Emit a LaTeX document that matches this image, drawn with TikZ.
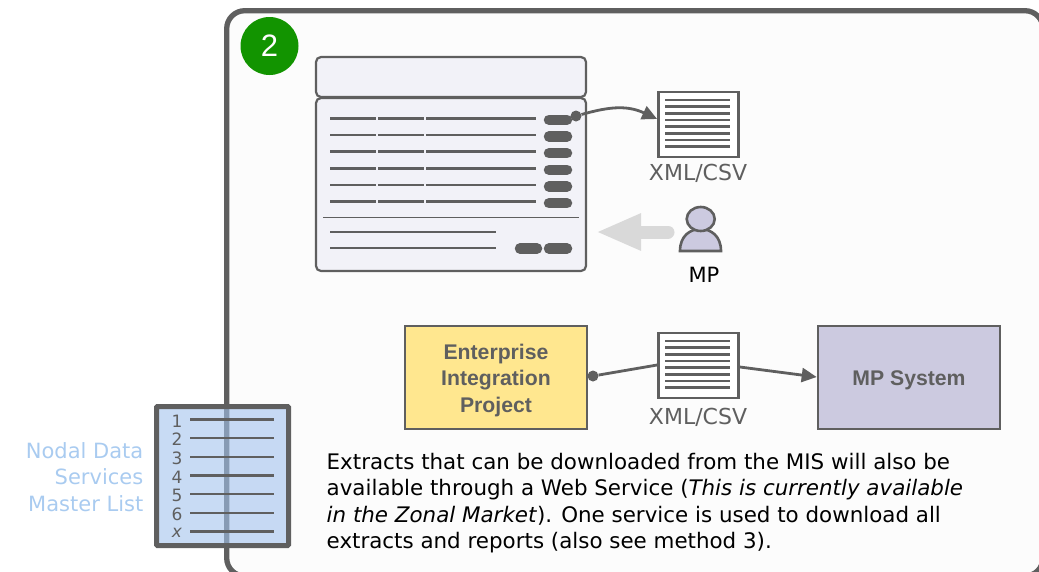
\documentclass[tikz,border=0pt]{standalone}
\usepackage{fontspec}
\setmainfont{DejaVu Sans}
\newfontfamily\boxfont{Liberation Sans}
\usetikzlibrary{arrows.meta}
\definecolor{linegray}{HTML}{5F5F5F}
\definecolor{panelgray}{HTML}{F2F2F8}
\definecolor{badgegreen}{HTML}{129400}
\definecolor{listblue}{HTML}{A3C3ED}
\definecolor{listtext}{HTML}{A9CBF0}
\definecolor{eipyellow}{HTML}{FFE78F}
\definecolor{mppurple}{HTML}{CCCAE0}
\tikzset{
	panel/.style={shape=rectangle, rounded corners=5pt, draw=linegray, fill=panelgray, line width=2.2pt, inner sep=0pt, minimum width=270pt},
	docbox/.style={shape=rectangle, draw=linegray, fill=white, line width=2.8pt, minimum width=80pt, minimum height=65pt, inner sep=0pt},
	sysbox/.style={shape=rectangle, draw=linegray, line width=2.6pt, minimum width=182pt, minimum height=103pt, inner sep=0pt},
	syslabel/.style={align=center, text=linegray, inner sep=0pt, font=\boxfont\fontsize{21.2}{26.5}\selectfont\bfseries},
	doclabel/.style={text=linegray, font=\fontsize{22}{26}\selectfont, inner sep=0pt},
	pill/.style={line width=10.5pt, line cap=round, draw=linegray},
	rowline/.style={line width=2.5pt, draw=linegray},
	flow/.style={line width=2.8pt, draw=linegray, -{Triangle[length=15pt,width=14pt]}},
	flowdot/.style={shape=circle, fill=linegray, minimum size=11pt, inner sep=0pt},
}
\begin{document}
\begin{tikzpicture}[x=1pt, y=-1pt]
	\useasboundingbox (0,0) rectangle (1039,571);
	\clip (0,0) rectangle (1039,571);

	\draw [line width=5.3pt, draw=linegray, fill=white!99!black, rounded corners=18pt] (226.7,10.7) rectangle (1043,576);

	\node[shape=circle, fill=badgegreen, text=white, minimum size=58pt, inner sep=0pt, font=\boxfont\fontsize{31}{31}\selectfont] (badge) at (269.5,46) {2};

	\node[panel, minimum height=40pt]  (titlebar) at (451,77)    {};
	\node[panel, minimum height=173pt] (extracts) at (451,184.5) {};

	\foreach \y in {118.3,135,151.7,168.3,185,201.7} {
		\draw [rowline] (330,\y) -- (376,\y);
		\draw [rowline] (378,\y) -- (424,\y);
		\draw [rowline] (426,\y) -- (536,\y);
		\draw [pill] (549,\y+1.5) -- (567,\y+1.5);
	}
	\draw [line width=1.4pt, draw=linegray] (323,217.5) -- (579,217.5);
	\draw [rowline] (330,232) -- (496,232);
	\draw [rowline] (330,248) -- (496,248);
	\draw [pill] (520,248.5) -- (537,248.5);
	\draw [pill] (549,248.5) -- (567,248.5);

	\node[flowdot] (rowdot) at (576,116) {};
	\node[docbox]  (doctop) at (698.5,124.5) {};
	\foreach \y in {100,106.7,113.3,120,126.7,133.3,140,146.7} {
		\draw [rowline] (665,\y) -- (730,\y);
	}
	\node[doclabel] (doctoplabel) at (698,173) {XML/CSV};
	\path [flow] (rowdot) .. controls (605,108) and (625,104) .. (doctop.west |- 0,119);

	\coordinate (greytail) at (668,232);
	\coordinate (greytip)  at (596,232);
	\draw [draw=black!15, line width=13pt, line cap=round, -{Triangle[length=45pt,width=34pt]}] (greytail) -- (greytip);

	\draw [line width=2.6pt, draw=linegray, fill=mppurple] (680,251) .. controls (680,236) and (690,229) .. (700.5,229) .. controls (711,229) and (721,236) .. (721,251) -- cycle;
	\draw [line width=2.6pt, draw=linegray, fill=mppurple] (700.7,219) ellipse [x radius=14pt, y radius=12pt];
	\node[text=black, font=\fontsize{21}{26}\selectfont, inner sep=0pt] (mp) at (704,275) {MP};

	\node[sysbox, fill=eipyellow] (eip)      at (496,377.5) {};
	\node[sysbox, fill=mppurple]  (mpsystem) at (909,377.5) {};
	\node[syslabel] (eiplabel) at (496,380.5) {Enterprise\\Integration\\Project};
	\node[syslabel] (mplabel)  at (909,380) {MP System};
	\node[docbox]                 (docflow)  at (698.5,365.5) {};
	\foreach \y in {341,347.7,354.3,361,367.7,374.3,381,387.7} {
		\draw [rowline] (665,\y) -- (730,\y);
	}
	\node[doclabel] (docflowlabel) at (698,417) {XML/CSV};
	\node[flowdot]  (eipdot)       at (593,376) {};
	\path [line width=2.8pt, draw=linegray] (eipdot) -- (docflow.west |- 0,365);
	\path [flow] (docflow.east |- 0,367) -- (mpsystem.west |- 0,377);

	\node[shape=rectangle, draw=linegray, fill=listblue, fill opacity=0.6, line width=5pt, rounded corners=1pt, minimum width=132pt, minimum height=139pt, inner sep=0pt] (masterlist) at (222.5,476) {};
	\foreach \y/\n/\t in {419.5/1/421,438/2/439,457/3/458,475.5/4/477,494/5/495,513/6/514} {
		\draw [rowline] (190,\y) -- (274,\y);
		\node[text=linegray, font=\fontsize{17}{17}\selectfont, inner sep=0pt] (num\n) at (177,\t) {\n};
	}
	\draw [rowline] (190,531.5) -- (274,531.5);
	\node[text=linegray, font=\fontsize{17}{17}\selectfont\itshape, inner sep=0pt] (numx) at (177,533) {x};

	\node[text=listtext, align=right, anchor=east, inner sep=0pt, font=\fontsize{21}{26.5}\selectfont] (listname) at (143.5,477) {Nodal Data\\Services\\Master List};

	\node[text=black, align=left, anchor=north west, inner sep=0pt, font=\fontsize{21.4}{26.5}\selectfont] (note) at (326.5,453) {Extracts that can be downloaded from the MIS will also be\\available through a Web Service (\textit{This is currently available}\\\textit{in the Zonal Market}). One service is used to download all\\extracts and reports (also see method 3).};
\end{tikzpicture}
\end{document}
